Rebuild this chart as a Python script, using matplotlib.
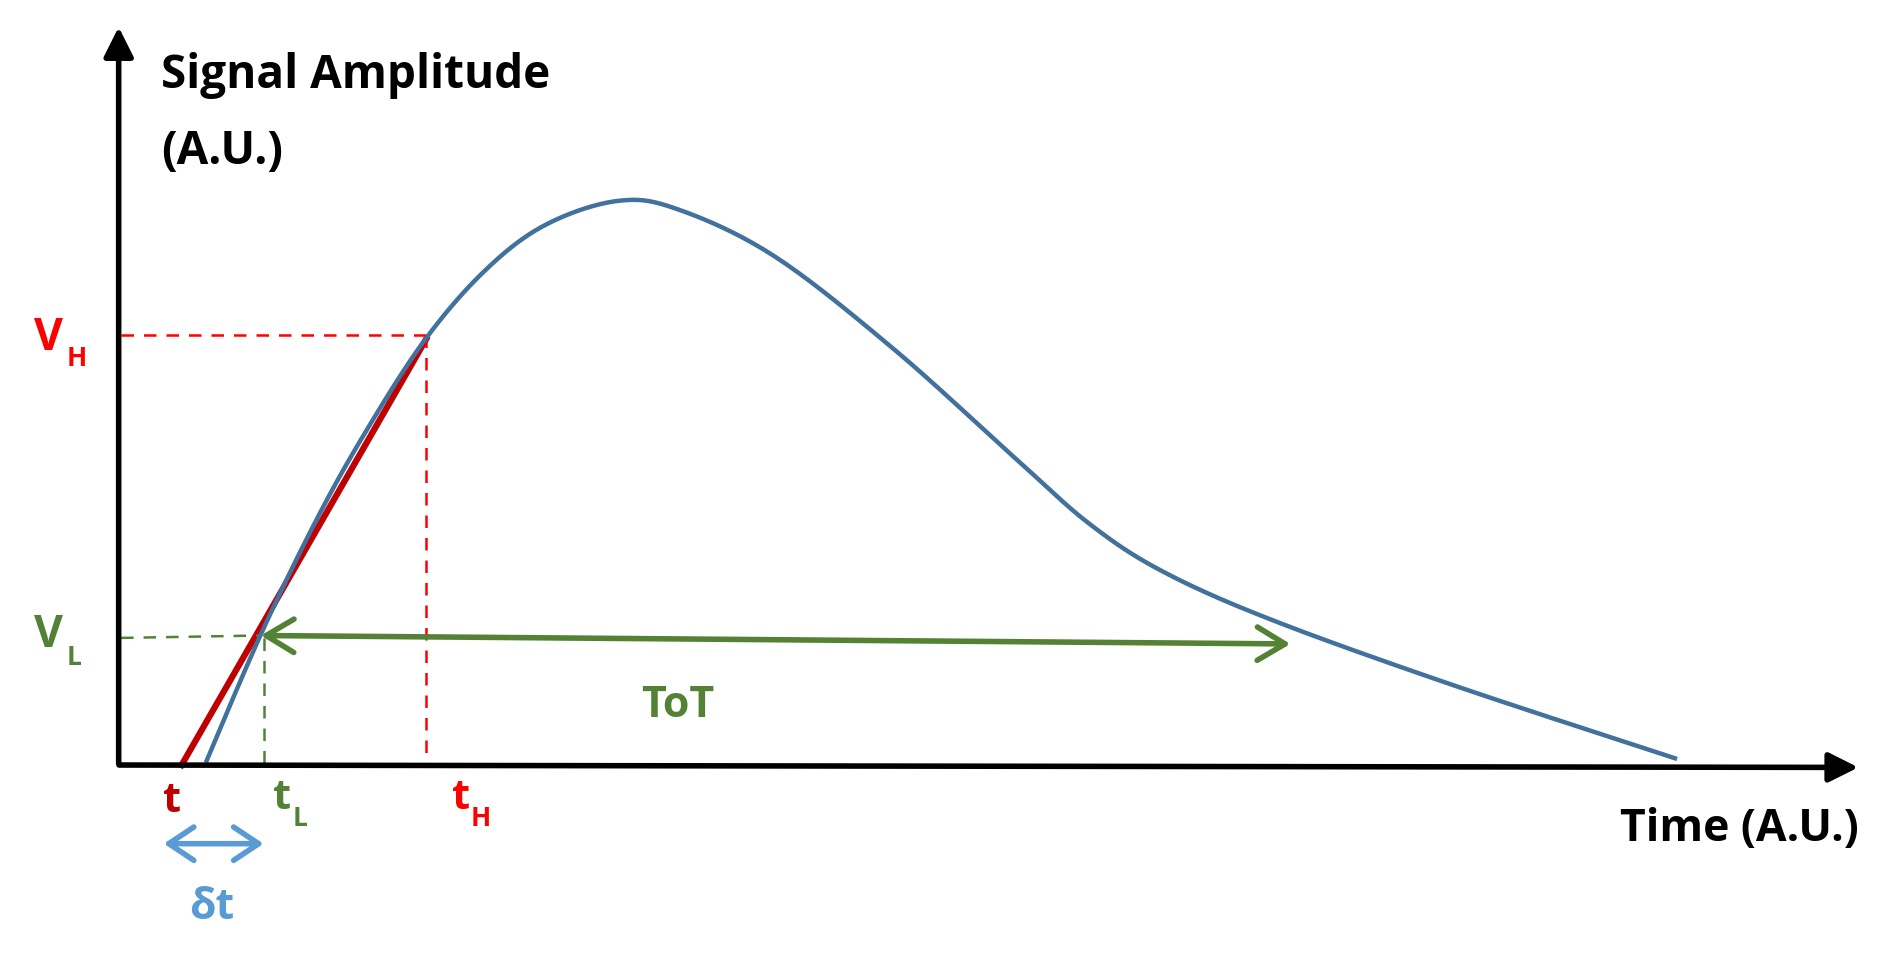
import matplotlib
matplotlib.use("Agg")
import matplotlib.pyplot as plt
import numpy as np
from matplotlib.patches import FancyArrowPatch

# pulse curve points (image-like coords, y downward)
curve_x = [170, 215, 260, 300, 350, 400, 450, 510, 560, 640, 740, 840, 900, 960, 1050, 1200, 1385]
curve_y = [630, 525, 432, 360, 282, 224, 186, 166, 173, 212, 290, 380, 433, 472, 512, 566, 627]
vh, vl = 277, 527
th, tl, t0 = 352, 218, 150

fig = plt.figure(figsize=(18.89, 9.72), dpi=100)
ax = fig.add_axes([0, 0, 1, 1])
ax.set_xlim(0, 1560)
ax.set_ylim(803, 0)
ax.axis("off")

pts = np.array(list(zip(curve_x, curve_y)), float)
P = np.vstack([pts[0], pts, pts[-1]])
xs, ys = [], []
for i in range(1, len(P) - 2):
    p0, p1, p2, p3 = P[i-1], P[i], P[i+1], P[i+2]
    for t in np.linspace(0, 1, 20, endpoint=False):
        q = 0.5 * ((2*p1) + (-p0+p2)*t + (2*p0-5*p1+4*p2-p3)*t**2 + (-p0+3*p1-3*p2+p3)*t**3)
        xs.append(q[0]); ys.append(q[1])
xs.append(pts[-1][0]); ys.append(pts[-1][1])
ax.plot(xs, ys, color="#41719C", lw=3.2, solid_capstyle="butt", zorder=3)

ax.plot([t0, th], [632, 280], color="#C00000", lw=4.5, zorder=2)

ax.plot([100, th], [vh, vh], color="red", lw=1.8, ls=(0, (5, 4)))
ax.plot([th, th], [vh, 630], color="red", lw=1.8, ls=(0, (5, 4)))
ax.plot([100, 215], [vl, 525], color="#548235", lw=1.8, ls=(0, (5, 4)))
ax.plot([tl, tl], [527, 630], color="#548235", lw=1.8, ls=(0, (5, 4)))

ax.add_patch(FancyArrowPatch((98, 633), (98, 20), arrowstyle="-|>,head_length=12,head_width=6",
                             color="black", lw=4, mutation_scale=1.5, zorder=4))
ax.add_patch(FancyArrowPatch((96, 632), (1537, 634), arrowstyle="-|>,head_length=12,head_width=6",
                             color="black", lw=4, mutation_scale=1.5, zorder=4))

ax.add_patch(FancyArrowPatch((213, 525), (1068, 532), arrowstyle="<->,head_length=10,head_width=6",
                             color="#548235", lw=4, mutation_scale=2, zorder=5))
ax.add_patch(FancyArrowPatch((133, 697), (220, 697), arrowstyle="<->,head_length=9,head_width=6",
                             color="#5B9BD5", lw=4, mutation_scale=2, zorder=5))

fam = ["Open Sans", "DejaVu Sans"]
kw = dict(fontweight="bold", family=fam)
ax.text(133, 62, "Signal Amplitude", fontsize=33, va="center", ha="left", **kw)
ax.text(133, 125, "(A.U.)", fontsize=33, va="center", ha="left", **kw)
ax.text(1535, 685, "Time (A.U.)", fontsize=32, va="center", ha="right", **kw)
ax.text(28, 280, "V", color="red", fontsize=32, va="center", **kw)
ax.text(55, 296, "H", color="red", fontsize=19, va="center", **kw)
ax.text(28, 525, "V", color="#548235", fontsize=32, va="center", **kw)
ax.text(55, 543, "L", color="#548235", fontsize=19, va="center", **kw)
ax.text(142, 662, "t", color="#C00000", fontsize=30, va="center", ha="center", **kw)
ax.text(233, 660, "t", color="#548235", fontsize=30, va="center", ha="center", **kw)
ax.text(248, 676, "L", color="#548235", fontsize=19, va="center", ha="center", **kw)
ax.text(381, 660, "t", color="red", fontsize=30, va="center", ha="center", **kw)
ax.text(397, 676, "H", color="red", fontsize=19, va="center", ha="center", **kw)
ax.text(560, 583, "ToT", color="#548235", fontsize=31, va="center", ha="center", **kw)
ax.text(175, 750, "δt", color="#5B9BD5", fontsize=31, va="center", ha="center", **kw)

fig.savefig("out.png", dpi=100)
